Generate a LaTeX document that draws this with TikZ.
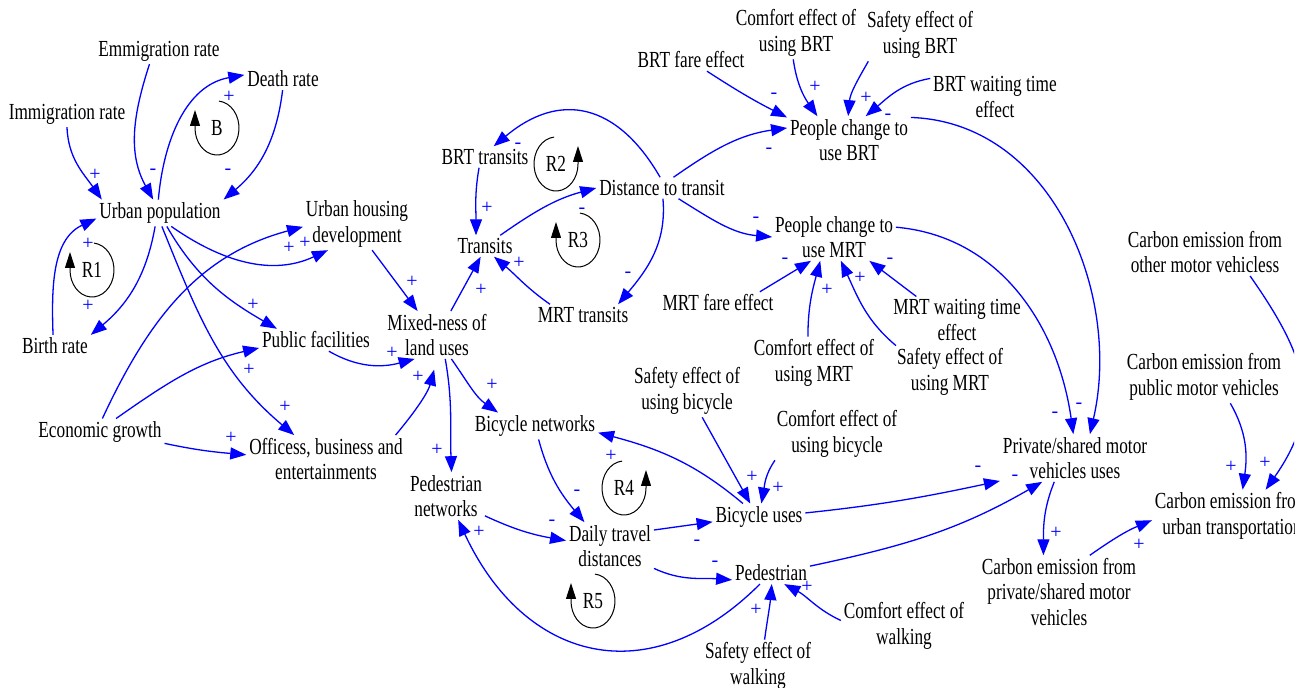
\documentclass[tikz,border=0pt]{standalone}
\usepackage{fontspec}
\setmainfont{Liberation Serif}[FakeStretch=0.75]
\newfontfamily\signfont{Liberation Serif}
\usetikzlibrary{arrows.meta}
\definecolor{linkblue}{RGB}{0,0,255}
\tikzset{
  var/.style={inner sep=1.5pt, outer sep=0pt, align=center, font=\fontsize{11.5pt}{12.75pt}\selectfont},
  link/.style={draw=linkblue, line width=0.65pt, -{Triangle[length=8pt,width=6pt]}},
  sign/.style={text=linkblue, inner sep=0pt, font=\signfont\fontsize{10pt}{10pt}\selectfont},
  loopline/.style={draw=black, line width=0.5pt, -{Triangle[length=8pt,width=5pt]}},
  looplbl/.style={inner sep=0pt, font=\fontsize{11.5pt}{12.75pt}\selectfont},
}
\begin{document}
\begin{tikzpicture}[x=0.5pt,y=0.5pt]
\useasboundingbox (0,0) rectangle (1305,-688);
\begin{scope}
\clip (0,0) rectangle (1294,-688);

% ---- variables ----
\node[var] (emig) at (159,-51) {Emmigration rate};
\node[var] (immig) at (67,-114) {Immigration rate};
\node[var] (death) at (283,-79) {Death rate};
\node[var] (pop) at (160,-213) {Urban population};
\node[var] (birth) at (55,-346) {Birth rate};
\node[var] (housing) at (357,-224) {Urban housing\\development};
\node[var] (pubfac) at (316,-340) {Public facilities};
\node[var] (econ) at (100,-432) {Economic growth};
\node[var] (office) at (326,-459) {Officess, business and\\entertainments};
\node[var] (mixed) at (437,-335) {Mixed-ness of\\land uses};
\node[var] (transits) at (485,-246) {Transits};
\node[var] (brt) at (485,-157) {BRT transits};
\node[var] (mrt) at (583,-315) {MRT transits};
\node[var] (dist) at (662,-188) {Distance to transit};
\node[var] (pbrt) at (849,-140) {People change to\\use BRT};
\node[var] (pmrt) at (834,-237) {People change to\\use MRT};
\node[var] (brtfare) at (691,-60) {BRT fare effect};
\node[var] (cbrt) at (796,-33) {Comfort effect of\\using BRT};
\node[var] (sbrt) at (920,-35) {Safety effect of\\using BRT};
\node[var] (wbrt) at (995,-97) {BRT waiting time\\effect};
\node[var] (mrtfare) at (718,-303) {MRT fare effect};
\node[var] (wmrt) at (957,-320) {MRT waiting time\\effect};
\node[var] (smrt) at (950,-372) {Safety effect of\\using MRT};
\node[var] (cmrt) at (814,-363) {Comfort effect of\\using MRT};
\node[var] (sbike) at (687,-391) {Safety effect of\\using bicycle};
\node[var] (cbike) at (837,-434) {Comfort effect of\\using bicycle};
\node[var] (bnet) at (535,-426) {Bicycle networks};
\node[var] (bike) at (759,-517) {Bicycle uses};
\node[var] (daily) at (610,-546) {Daily travel\\distances};
\node[var] (pnet) at (446,-496) {Pedestrian\\networks};
\node[var] (ped) at (771,-573) {Pedestrian};
\node[var] (swalk) at (758,-666) {Safety effect of\\walking};
\node[var] (cwalk) at (904,-626) {Comfort effect of\\walking};
\node[var] (priv) at (1075,-458) {Private/shared motor\\vehicles uses};
\node[var] (cpriv) at (1059,-592) {Carbon emission from\\private/shared motor\\vehicles};
\node[var] (cpub) at (1204,-377) {Carbon emission from\\public motor vehicles};
\node[var] (cother) at (1205,-252) {Carbon emission from\\other motor vehicless};
\node[var] (curban) at (1232,-516) {Carbon emission from\\urban transportation};

% ---- causal links ----
\draw[link] (immig.-90) to[out=-88,in=125] (pop.167);
\draw[link] (emig.-126) to[out=-108,in=119] (pop.117);
\draw[link] (pop.97) to[out=85,in=-170] (death.174);
\draw[link] (death.-92) to[out=-97,in=40] (pop.north east);
\draw[link] (pop.-110) to[out=-100,in=40] (birth.north east);
\draw[link] (birth.100) to[out=92,in=-155] (pop.185);
\draw[link] (pop.-50) to[out=-35,in=-155] (housing.-138);
\draw[link] (econ.80) to[out=65,in=-165] (housing.-177);
\draw[link] (pop.-63) to[out=-60,in=150] (pubfac.164);
\draw[link] (pop.-82) to[out=-68,in=140] (office.143);
\draw[link] (econ.40) to[out=35,in=-167] (pubfac.-172);
\draw[link] (econ.-10) to[out=-12,in=175] (office.177);
\draw[link] (pubfac.-41) to[out=-30,in=-165] (mixed.-133);
\draw[link, shorten >=5.5pt] (office.19) to[out=50,in=-105] (mixed.-90);
\draw[link] (housing.-60) -- (mixed.129);
\draw[link] (mixed.-71) to[out=-80,in=92] (pnet.77);
\draw[link] (mixed.-59) to[out=-55,in=145] (bnet.160);
\draw[link] (mixed.60) -- (transits.-112);
\draw[link] (mrt.162) to[out=145,in=-40] (transits.-50);
\draw[link] (brt.-119) to[out=-100,in=90] (transits.130);
\draw[link] (transits.35) to[out=35,in=-165] (dist.west);
\draw[link] (dist.100) to[out=120,in=40,looseness=1.3] (brt.51);
\draw[link] (dist.-85) to[out=-85,in=50] (mrt.17);
\draw[link] (dist.43) to[out=35,in=-172] (pbrt.169);
\draw[link] (dist.-33) to[out=-32,in=175] (pmrt.west);
\draw[link] (brtfare.-35) to[out=-33,in=153] (pbrt.160);
\draw[link] (cbrt.-96) to[out=-82,in=125] (pbrt.143);
\draw[link] (sbrt.-153) to[out=-120,in=85] (pbrt.92);
\draw[link] (wbrt.164) to[out=190,in=40] (pbrt.55);
\draw[link] (pbrt.20) to[out=-2,in=77] (priv.58);
\draw[link] (pmrt.9) to[out=-5,in=98] (priv.94);
\draw[link] (mrtfare.15) -- (pmrt.-134);
\draw[link] (cmrt.103) to[out=90,in=-105] (pmrt.-120);
\draw[link] (smrt.154) to[out=140,in=-65] (pmrt.-74);
\draw[link] (wmrt.150) -- (pmrt.-34);
\draw[link] (bnet.-75) to[out=-75,in=130] (daily.137);
\draw[link] (pnet.-27) to[out=-25,in=170] (daily.173);
\draw[link] (daily.20) -- (bike.-174);
\draw[link] (daily.-27) to[out=-25,in=176] (ped.-170);
\draw[link] (bike.140) to[out=140,in=-15] (bnet.-6);
\draw[link] (ped.-135) to[out=-135,in=-65,looseness=1.3] (pnet.-63);
\draw[link] (sbike.-60) -- (bike.123);
\draw[link] (cbike.-157) to[out=-125,in=80] (bike.80);
\draw[link] (bike.5) to[out=6,in=-168] (priv.-163);
\draw[link] (ped.10) to[out=12,in=-150] (priv.-144);
\draw[link] (swalk.76) to[out=82,in=-95] (ped.-86);
\draw[link] (cwalk.175) to[out=155,in=-28] (ped.-40);
\draw[link] (priv.-131) to[out=-112,in=90] (cpriv.113);
\draw[link] (cpriv.50) to[out=35,in=-157] (curban.-177);
\draw[link] (cpub.-45) to[out=-60,in=82] (curban.68);
\draw[link] (cother.-28) to[out=-55,in=55,looseness=1.2] (curban.38);

% ---- link polarities ----
\node[sign] (s1) at (95,-175) {+};
\node[sign] (s2) at (153,-172) {-};
\node[sign] (s3) at (229,-97) {+};
\node[sign] (s4) at (228,-172) {-};
\node[sign] (s5) at (88,-306) {+};
\node[sign] (s6) at (88,-244) {+};
\node[sign] (s7) at (305,-243) {+};
\node[sign] (s8) at (289,-248) {+};
\node[sign] (s9) at (253,-305) {+};
\node[sign] (s10) at (285,-407) {+};
\node[sign] (s11) at (249,-370) {+};
\node[sign] (s12) at (231,-438) {+};
\node[sign] (s13) at (392,-353) {+};
\node[sign] (s14) at (418,-377) {+};
\node[sign] (s15) at (412,-282) {+};
\node[sign] (s16) at (437,-450) {+};
\node[sign] (s17) at (492,-385) {+};
\node[sign] (s18) at (481,-290) {+};
\node[sign] (s19) at (519,-263) {+};
\node[sign] (s20) at (487,-208) {+};
\node[sign] (s21) at (582,-211) {-};
\node[sign] (s22) at (518,-146) {-};
\node[sign] (s23) at (628,-275) {-};
\node[sign] (s24) at (769,-151) {-};
\node[sign] (s25) at (756,-220) {-};
\node[sign] (s26) at (774,-96) {-};
\node[sign] (s27) at (815,-87) {+};
\node[sign] (s28) at (866,-98) {+};
\node[sign] (s29) at (888,-117) {-};
\node[sign] (s30) at (1079,-406) {-};
\node[sign] (s31) at (1055,-415) {-};
\node[sign] (s32) at (785,-261) {-};
\node[sign] (s33) at (827,-290) {+};
\node[sign] (s34) at (860,-278) {+};
\node[sign] (s35) at (890,-261) {-};
\node[sign] (s36) at (577,-493) {-};
\node[sign] (s37) at (552,-523) {-};
\node[sign] (s38) at (697,-543) {-};
\node[sign] (s39) at (715,-564) {-};
\node[sign] (s40) at (611,-456) {+};
\node[sign] (s41) at (479,-532) {+};
\node[sign] (s42) at (752,-477) {+};
\node[sign] (s43) at (778,-488) {+};
\node[sign] (s44) at (978,-469) {-};
\node[sign] (s45) at (1015,-478) {-};
\node[sign] (s46) at (756,-610) {+};
\node[sign] (s47) at (807,-587) {+};
\node[sign] (s48) at (1056,-533) {+};
\node[sign] (s49) at (1139,-545) {+};
\node[sign] (s50) at (1231,-467) {+};
\node[sign] (s51) at (1265,-463) {+};

% ---- feedback loop markers ----
\node[looplbl] (loopB) at (217,-128) {B};
\draw[loopline] ([shift={(85:11pt and 13.5pt)}]loopB.center) arc[start angle=85,end angle=-180,x radius=11pt,y radius=13.5pt] -- ++(0,9pt);
\node[looplbl] (loopR1) at (92,-270) {R1};
\draw[loopline] ([shift={(85:11pt and 13.5pt)}]loopR1.center) arc[start angle=85,end angle=-180,x radius=11pt,y radius=13.5pt] -- ++(0,9pt);
\node[looplbl] (loopR2) at (556,-164) {R2};
\draw[loopline] ([shift={(95:11pt and 13.5pt)}]loopR2.center) arc[start angle=95,end angle=360,x radius=11pt,y radius=13.5pt] -- ++(0,9pt);
\node[looplbl] (loopR3) at (578,-240) {R3};
\draw[loopline] ([shift={(85:11pt and 13.5pt)}]loopR3.center) arc[start angle=85,end angle=-180,x radius=11pt,y radius=13.5pt] -- ++(0,9pt);
\node[looplbl] (loopR4) at (624,-488) {R4};
\draw[loopline] ([shift={(95:11pt and 13.5pt)}]loopR4.center) arc[start angle=95,end angle=360,x radius=11pt,y radius=13.5pt] -- ++(0,9pt);
\node[looplbl] (loopR5) at (593,-601) {R5};
\draw[loopline] ([shift={(85:11pt and 13.5pt)}]loopR5.center) arc[start angle=85,end angle=-180,x radius=11pt,y radius=13.5pt] -- ++(0,9pt);
\end{scope}
\end{tikzpicture}
\end{document}
